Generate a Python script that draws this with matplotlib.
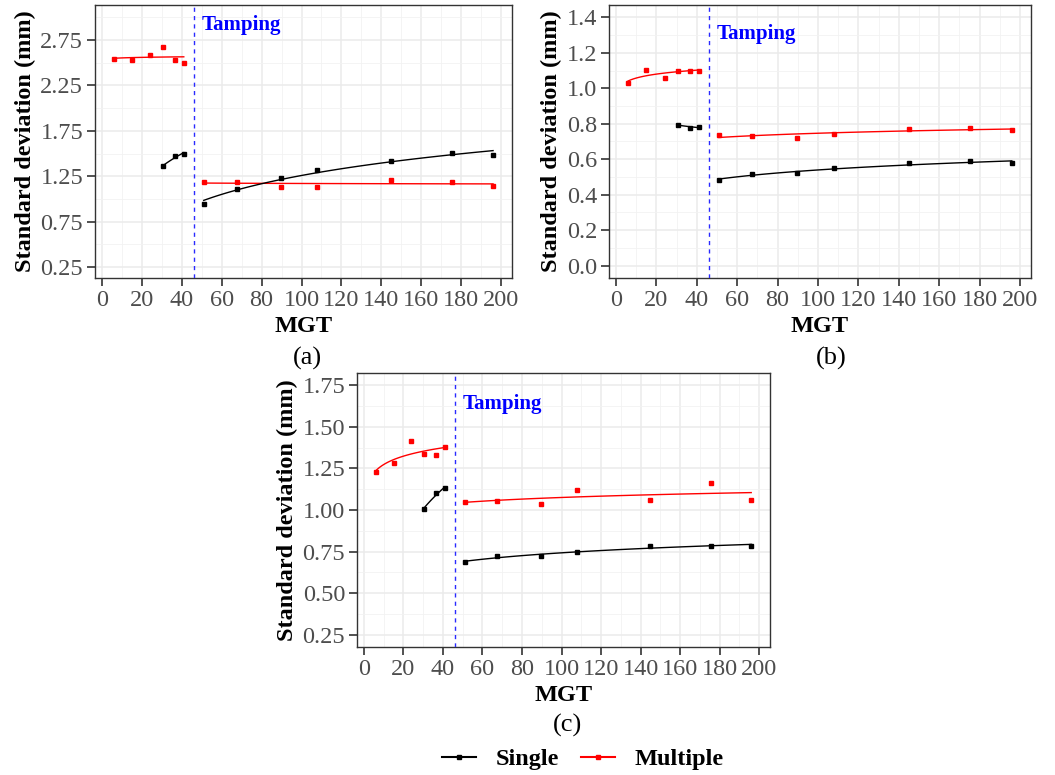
import numpy as np
import matplotlib
matplotlib.use("Agg")
import matplotlib.pyplot as plt
from matplotlib.ticker import MultipleLocator
from matplotlib.lines import Line2D

plt.rcParams['font.family'] = ['Liberation Serif', 'DejaVu Serif']

# MGT at each measurement
x_multi_pre = [6, 15, 24, 30.5, 36.5, 41]
x_single_pre = [30.5, 36.5, 41]
x_post = [51, 67.5, 89.5, 108, 145, 175.5, 196]
tamping = 46

# (a)
a_multi_pre = [2.54, 2.53, 2.585, 2.67, 2.535, 2.495]
a_single_pre = [1.36, 1.47, 1.50]
a_multi_post = [1.19, 1.19, 1.13, 1.135, 1.21, 1.19, 1.145]
a_single_post = [0.945, 1.115, 1.235, 1.315, 1.415, 1.505, 1.485]

# (b)
b_multi_pre = [1.03, 1.105, 1.06, 1.10, 1.10, 1.10]
b_single_pre = [0.795, 0.777, 0.782]
b_multi_post = [0.735, 0.732, 0.721, 0.743, 0.773, 0.774, 0.766]
b_single_post = [0.485, 0.516, 0.522, 0.548, 0.576, 0.588, 0.58]

# (c)
c_multi_pre = [1.23, 1.283, 1.415, 1.34, 1.33, 1.379]
c_single_pre = [1.009, 1.10, 1.133]
c_multi_post = [1.049, 1.057, 1.039, 1.119, 1.063, 1.16, 1.063]
c_single_post = [0.685, 0.723, 0.725, 0.747, 0.785, 0.783, 0.785]

W, H = 1055, 775
fig = plt.figure(figsize=(W / 100, H / 100), dpi=100)


def box(l, t, r, b):
    return [l / W, 1 - b / H, (r - l) / W, (b - t) / H]


def logfit(ax, x, y, color):
    x = np.asarray(x, float)
    y = np.asarray(y, float)
    k, c = np.polyfit(np.log(x), y, 1)
    xs = np.linspace(x.min(), x.max(), 100)
    ax.plot(xs, c + k * np.log(xs), color=color, lw=1.0, zorder=3)
    ax.plot(x, y, 's', color=color, ms=3.4, zorder=4)


def panel(pos, mp, sp, mpo, spo, ylim, ymaj, yfmt, ty):
    ax = fig.add_axes(box(*pos))
    ax.set_xlim(-3.5, 205.5)
    ax.set_ylim(*ylim)
    ax.xaxis.set_major_locator(MultipleLocator(20))
    ax.xaxis.set_minor_locator(MultipleLocator(10))
    ax.yaxis.set_major_locator(MultipleLocator(ymaj))
    ax.yaxis.set_minor_locator(MultipleLocator(ymaj / 2))
    if ymaj == 0.5:
        ax.set_yticks(np.arange(0.25, ylim[1], 0.5))
        ax.set_yticks(np.arange(0.5, ylim[1], 0.5), minor=True)
    ax.yaxis.set_major_formatter(yfmt)
    ax.grid(which='major', color='#ebebeb', lw=1.1, zorder=0)
    ax.grid(which='minor', color='#f2f2f2', lw=0.6, zorder=0)
    ax.set_axisbelow(True)
    ax.tick_params(which='major', length=5.5, width=1.2, color='#333333',
                   labelcolor='#4d4d4d', labelsize=17.5, pad=3)
    ax.tick_params(which='minor', length=0)
    for s in ax.spines.values():
        s.set_color('#333333')
        s.set_linewidth(1.0)
    logfit(ax, x_multi_pre, mp, 'red')
    logfit(ax, x_single_pre, sp, 'black')
    logfit(ax, x_post, mpo, 'red')
    logfit(ax, x_post, spo, 'black')
    ax.axvline(tamping, color='#2a2aff', ls=(0, (3, 3)), lw=1.0, zorder=3)
    ax.text(50, ty, 'Tamping', color='#0000ff', fontsize=15, fontweight='bold',
            va='center', ha='left')
    ax.set_xlabel('MGT', fontsize=17.5, fontweight='bold', labelpad=4)
    ax.set_ylabel('Standard deviation (mm)', fontsize=17.5, fontweight='bold', labelpad=3)
    return ax


panel((95, 5, 512, 278), a_multi_pre, a_single_pre, a_multi_post, a_single_post,
      (0.13, 3.135), 0.5, '{x:.2f}', 2.915)
panel((609, 5, 1031, 278), b_multi_pre, b_single_pre, b_multi_post, b_single_post,
      (-0.07, 1.47), 0.2, '{x:.1f}', 1.305)
panel((357, 373, 770, 647), c_multi_pre, c_single_pre, c_multi_post, c_single_post,
      (0.175, 1.825), 0.25, '{x:.2f}', 1.636)

fig.text(307 / W, 1 - 358 / H, '(a)', fontsize=19, ha='center', va='center')
fig.text(831 / W, 1 - 358 / H, '(b)', fontsize=19, ha='center', va='center')
fig.text(567 / W, 1 - 725 / H, '(c)', fontsize=19, ha='center', va='center')

handles = [Line2D([], [], color='black', marker='s', ms=3.4, lw=1.5),
           Line2D([], [], color='red', marker='s', ms=3.4, lw=1.5)]
fig.legend(handles, ['Single', 'Multiple'], loc='center', ncol=2,
           bbox_to_anchor=(583 / W, 1 - 759 / H), frameon=False,
           prop={'size': 17.5, 'weight': 'bold'}, handlelength=1.4,
           columnspacing=0.9, handletextpad=0.8)

fig.savefig('out.png', dpi=100)
